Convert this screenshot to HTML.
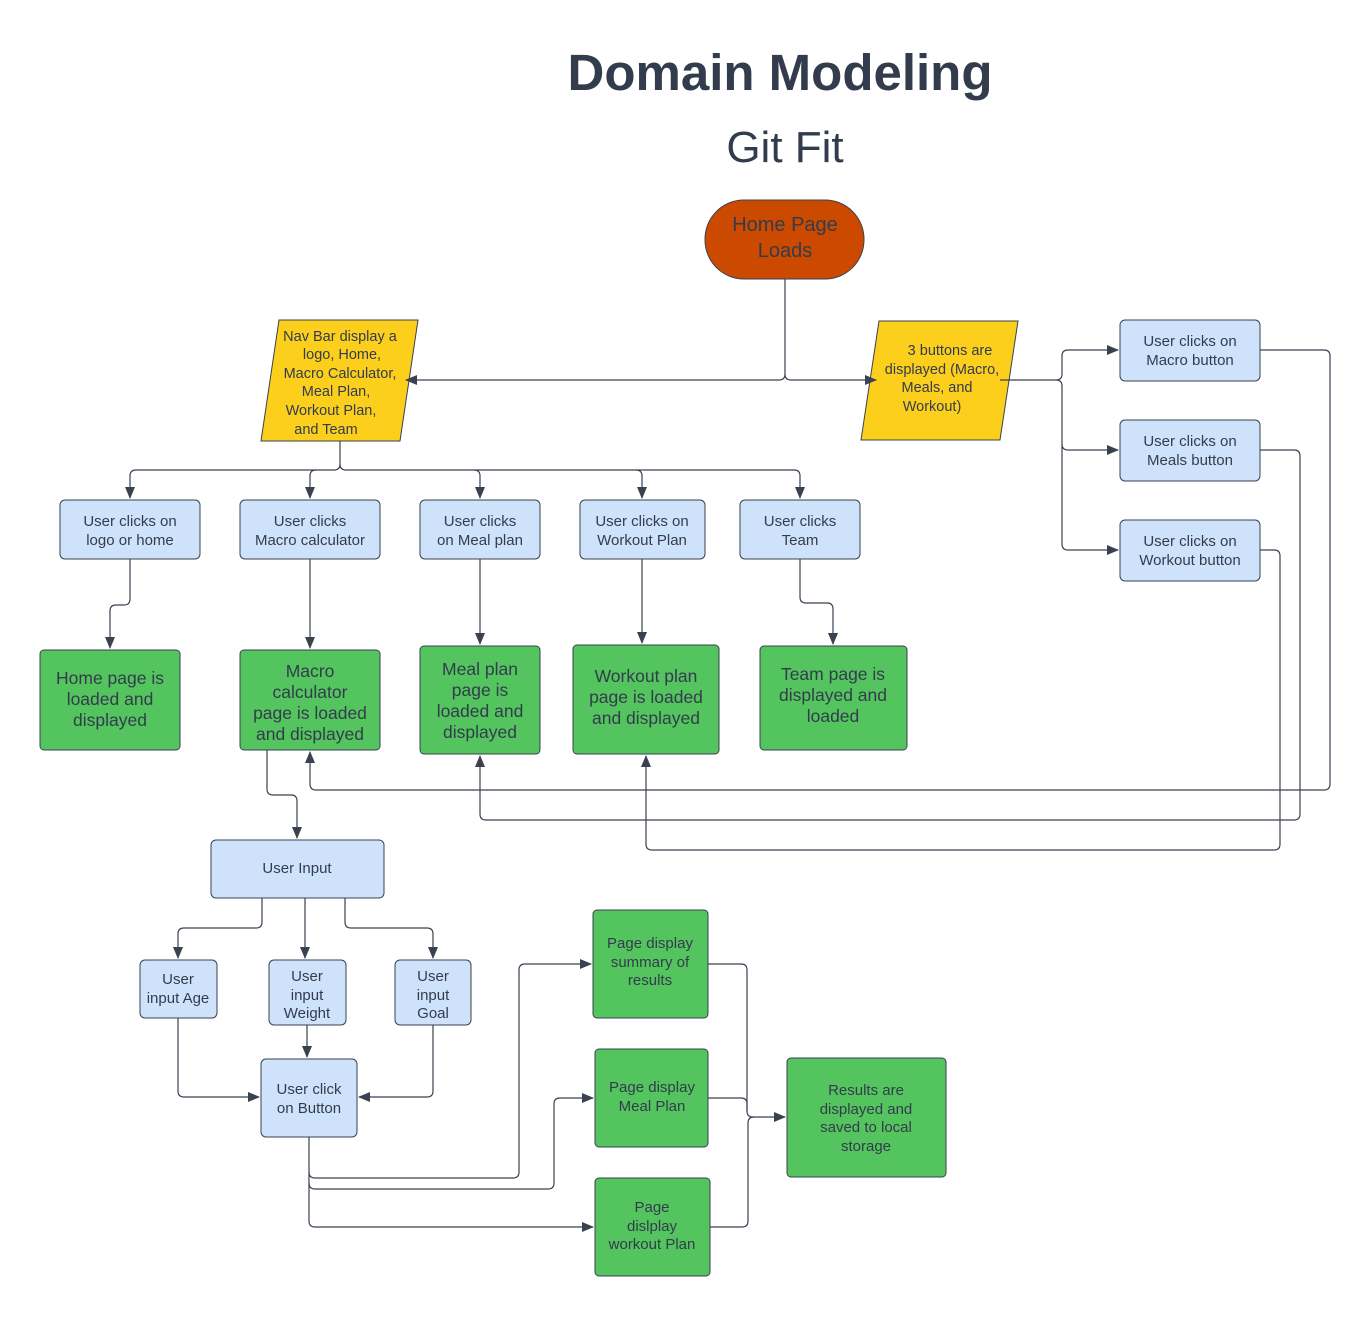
<!DOCTYPE html>
<html><head><meta charset="utf-8"><style>
html,body{margin:0;padding:0;background:#fff;}
svg{display:block;}
text{font-family:"Liberation Sans",sans-serif;fill:#333c4d;text-anchor:middle;}
.b{fill:#cfe2fc;stroke:#3a4150;stroke-width:1;}
.g{fill:#54c45e;stroke:#3a4150;stroke-width:1;}
.y{fill:#fccf1c;stroke:#3a4150;stroke-width:1;}
.l{fill:none;stroke:#3a4150;stroke-width:1.2;}
.s{font-size:15px;}
.m{font-size:17.5px;}
.t{font-size:14.5px;}
</style></head><body>
<svg width="1370" height="1317" viewBox="0 0 1370 1317" xmlns="http://www.w3.org/2000/svg">
<defs><marker id="a" markerWidth="12" markerHeight="10" refX="11" refY="5" orient="auto" markerUnits="userSpaceOnUse"><path d="M0,0 L12,5 L0,10 z" fill="#3a4150"/></marker></defs>
<text x="780" y="90" style="font-size:51px;font-weight:bold">Domain Modeling</text>
<text x="785" y="162" style="font-size:44px">Git Fit</text>

<rect x="705" y="200" width="159" height="79" rx="39" fill="#cc4a00" stroke="#3a4150"/>
<text x="785" y="231" style="font-size:20px">Home Page</text>
<text x="785" y="257" style="font-size:20px">Loads</text>

<polygon class="y" points="279,320 418,320 400,441 261,441"/>
<g class="t"><text x="340" y="341">Nav Bar display a</text><text x="342" y="359">logo, Home,</text><text x="340" y="378">Macro Calculator,</text><text x="336" y="396">Meal Plan,</text><text x="331" y="415">Workout Plan,</text><text x="326" y="434">and Team</text></g>

<polygon class="y" points="879,321 1018,321 1000,440 861,440"/>
<g class="t"><text x="950" y="355">3 buttons are</text><text x="942" y="374">displayed (Macro,</text><text x="937" y="392">Meals, and</text><text x="932" y="411">Workout)</text></g>

<path class="l" d="M785,279 V374 Q785,380 779,380 H406" marker-end="url(#a)"/>
<path class="l" d="M785,374 Q785,380 791,380 H876" marker-end="url(#a)"/>

<rect class="b" x="1120" y="320" width="140" height="61" rx="5"/>
<text class="s" x="1190" y="346">User clicks on</text><text class="s" x="1190" y="365">Macro button</text>
<rect class="b" x="1120" y="420" width="140" height="61" rx="5"/>
<text class="s" x="1190" y="446">User clicks on</text><text class="s" x="1190" y="465">Meals button</text>
<rect class="b" x="1120" y="520" width="140" height="61" rx="5"/>
<text class="s" x="1190" y="546">User clicks on</text><text class="s" x="1190" y="565">Workout button</text>
<path class="l" d="M1000,380 H1056 Q1062,380 1062,374 V356 Q1062,350 1068,350 H1118" marker-end="url(#a)"/>
<path class="l" d="M1056,380 Q1062,380 1062,386 V444 Q1062,450 1068,450 H1118" marker-end="url(#a)"/>
<path class="l" d="M1062,444 V544 Q1062,550 1068,550 H1118" marker-end="url(#a)"/>
<path class="l" d="M1260,350 H1324 Q1330,350 1330,356 V784 Q1330,790 1324,790 H316 Q310,790 310,784 V752" marker-end="url(#a)"/>
<path class="l" d="M1260,450 H1294 Q1300,450 1300,456 V814 Q1300,820 1294,820 H486 Q480,820 480,814 V756" marker-end="url(#a)"/>
<path class="l" d="M1260,550 H1274 Q1280,550 1280,556 V844 Q1280,850 1274,850 H652 Q646,850 646,844 V756" marker-end="url(#a)"/>

<path class="l" d="M340,441 V464 Q340,470 346,470 H794 Q800,470 800,476 V498" marker-end="url(#a)"/>
<path class="l" d="M340,464 Q340,470 334,470 H136 Q130,470 130,476 V498" marker-end="url(#a)"/>
<path class="l" d="M316,470 Q310,470 310,476 V498" marker-end="url(#a)"/>
<path class="l" d="M474,470 Q480,470 480,476 V498" marker-end="url(#a)"/>
<path class="l" d="M636,470 Q642,470 642,476 V498" marker-end="url(#a)"/>

<rect class="b" x="60" y="500" width="140" height="59" rx="5"/>
<text class="s" x="130" y="526">User clicks on</text><text class="s" x="130" y="545">logo or home</text>
<rect class="b" x="240" y="500" width="140" height="59" rx="5"/>
<text class="s" x="310" y="526">User clicks</text><text class="s" x="310" y="545">Macro calculator</text>
<rect class="b" x="420" y="500" width="120" height="59" rx="5"/>
<text class="s" x="480" y="526">User clicks</text><text class="s" x="480" y="545">on Meal plan</text>
<rect class="b" x="580" y="500" width="125" height="59" rx="5"/>
<text class="s" x="642" y="526">User clicks on</text><text class="s" x="642" y="545">Workout Plan</text>
<rect class="b" x="740" y="500" width="120" height="59" rx="5"/>
<text class="s" x="800" y="526">User clicks</text><text class="s" x="800" y="545">Team</text>

<path class="l" d="M130,559 V599 Q130,605 124,605 H116 Q110,605 110,611 V648" marker-end="url(#a)"/>
<path class="l" d="M310,559 V648" marker-end="url(#a)"/>
<path class="l" d="M480,559 V644" marker-end="url(#a)"/>
<path class="l" d="M642,559 V643" marker-end="url(#a)"/>
<path class="l" d="M800,559 V597 Q800,603 806,603 H827 Q833,603 833,609 V644" marker-end="url(#a)"/>

<rect class="g" x="40" y="650" width="140" height="100" rx="4"/>
<g class="m"><text x="110" y="684">Home page is</text><text x="110" y="705">loaded and</text><text x="110" y="726">displayed</text></g>
<rect class="g" x="240" y="650" width="140" height="100" rx="4"/>
<g class="m"><text x="310" y="677">Macro</text><text x="310" y="698">calculator</text><text x="310" y="719">page is loaded</text><text x="310" y="740">and displayed</text></g>
<rect class="g" x="420" y="646" width="120" height="108" rx="4"/>
<g class="m"><text x="480" y="675">Meal plan</text><text x="480" y="696">page is</text><text x="480" y="717">loaded and</text><text x="480" y="738">displayed</text></g>
<rect class="g" x="573" y="645" width="146" height="109" rx="4"/>
<g class="m"><text x="646" y="682">Workout plan</text><text x="646" y="703">page is loaded</text><text x="646" y="724">and displayed</text></g>
<rect class="g" x="760" y="646" width="147" height="104" rx="4"/>
<g class="m"><text x="833" y="680">Team page is</text><text x="833" y="701">displayed and</text><text x="833" y="722">loaded</text></g>

<path class="l" d="M267,750 V789 Q267,795 273,795 H291 Q297,795 297,801 V838" marker-end="url(#a)"/>
<rect class="b" x="211" y="840" width="173" height="58" rx="5"/>
<text class="s" x="297" y="873">User Input</text>

<path class="l" d="M262,898 V922 Q262,928 256,928 H184 Q178,928 178,934 V958" marker-end="url(#a)"/>
<path class="l" d="M305,898 V958" marker-end="url(#a)"/>
<path class="l" d="M345,898 V922 Q345,928 351,928 H427 Q433,928 433,934 V958" marker-end="url(#a)"/>

<rect class="b" x="140" y="960" width="77" height="58" rx="5"/>
<text class="s" x="178" y="984">User</text><text class="s" x="178" y="1003">input Age</text>
<rect class="b" x="269" y="960" width="77" height="65" rx="5"/>
<text class="s" x="307" y="981">User</text><text class="s" x="307" y="1000">input</text><text class="s" x="307" y="1018">Weight</text>
<rect class="b" x="395" y="960" width="76" height="65" rx="5"/>
<text class="s" x="433" y="981">User</text><text class="s" x="433" y="1000">input</text><text class="s" x="433" y="1018">Goal</text>

<path class="l" d="M307,1025 V1057" marker-end="url(#a)"/>
<path class="l" d="M178,1018 V1091 Q178,1097 184,1097 H259" marker-end="url(#a)"/>
<path class="l" d="M433,1025 V1091 Q433,1097 427,1097 H359" marker-end="url(#a)"/>

<rect class="b" x="261" y="1059" width="96" height="78" rx="5"/>
<text class="s" x="309" y="1094">User click</text><text class="s" x="309" y="1113">on Button</text>

<path class="l" d="M309,1137 V1172 Q309,1178 315,1178 H513 Q519,1178 519,1172 V970 Q519,964 525,964 H591" marker-end="url(#a)"/>
<path class="l" d="M309,1172 V1183 Q309,1189 315,1189 H548 Q554,1189 554,1183 V1104 Q554,1098 560,1098 H593" marker-end="url(#a)"/>
<path class="l" d="M309,1183 V1221 Q309,1227 315,1227 H593" marker-end="url(#a)"/>

<rect class="g" x="593" y="910" width="115" height="108" rx="4"/>
<g class="s"><text x="650" y="948">Page display</text><text x="650" y="967">summary of</text><text x="650" y="985">results</text></g>
<rect class="g" x="595" y="1049" width="113" height="98" rx="4"/>
<g class="s"><text x="652" y="1092">Page display</text><text x="652" y="1111">Meal Plan</text></g>
<rect class="g" x="595" y="1178" width="115" height="98" rx="4"/>
<g class="s"><text x="652" y="1212">Page</text><text x="652" y="1231">dislplay</text><text x="652" y="1249">workout Plan</text></g>

<path class="l" d="M708,964 H741 Q747,964 747,970 V1111 Q747,1117 753,1117 H785" marker-end="url(#a)"/>
<path class="l" d="M708,1098 H741 Q747,1098 747,1104 V1111"/>
<path class="l" d="M710,1227 H742 Q748,1227 748,1221 V1123 Q748,1117 754,1117"/>

<rect class="g" x="787" y="1058" width="159" height="119" rx="4"/>
<g class="s"><text x="866" y="1095">Results are</text><text x="866" y="1114">displayed and</text><text x="866" y="1132">saved to local</text><text x="866" y="1151">storage</text></g>
</svg>
</body></html>
